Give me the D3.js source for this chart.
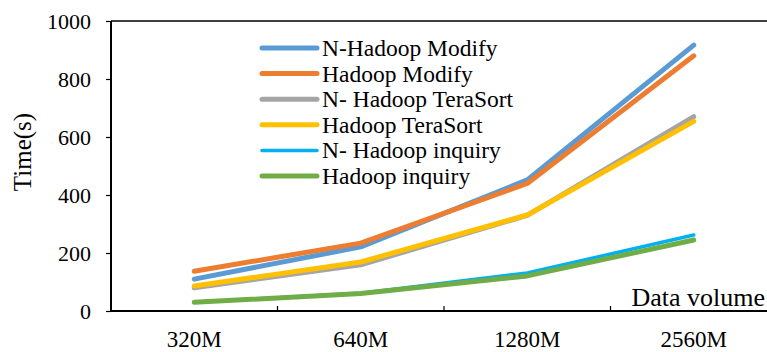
<!DOCTYPE html>
<html>
<head>
<meta charset="utf-8">
<script src="https://cdn.jsdelivr.net/npm/d3@7"></script>
<style>
  html, body { margin: 0; padding: 0; background: #fff; }
  svg { display: block; }
</style>
</head>
<body>
<svg id="chart" width="767" height="352"></svg>
<script>
// Data volumes on the x axis
const categories = ["320M", "640M", "1280M", "2560M"];

// Run time in seconds for each job type
const nHadoopModify    = [110, 221, 452, 917];
const hadoopModify     = [137, 234, 440, 880];
const nHadoopTeraSort  = [80, 159, 330, 670];
const hadoopTeraSort   = [86, 169, 331, 654];
const nHadoopInquiry   = [30, 61, 131, 262];
const hadoopInquiry    = [30, 60, 121, 245];

const seriesNames  = ["N-Hadoop Modify", "Hadoop Modify", "N- Hadoop TeraSort",
                      "Hadoop TeraSort", "N- Hadoop inquiry", "Hadoop inquiry"];
const seriesValues = [nHadoopModify, hadoopModify, nHadoopTeraSort,
                      hadoopTeraSort, nHadoopInquiry, hadoopInquiry];
const seriesColors = ["#5B9BD5", "#ED7D31", "#A5A5A5", "#FFC000", "#00B0F0", "#70AD47"];
const seriesWidths = [5, 5, 5, 5, 3.5, 5];

const yTicks = [0, 200, 400, 600, 800, 1000];

const FONT = "'Liberation Serif', 'Times New Roman', Times, 'DejaVu Serif', serif";

const svg = d3.select("#chart");

const plotLeft = 111, plotTop = 21, plotBottom = 311, step = 166.5;

const x = d3.scaleBand()
  .domain(categories)
  .range([plotLeft, plotLeft + step * categories.length])
  .paddingInner(0).paddingOuter(0);

const y = d3.scaleLinear().domain([0, 1000]).range([plotBottom, plotTop]);

// Plot frame: top border
svg.append("line")
  .attr("x1", plotLeft).attr("x2", 767)
  .attr("y1", plotTop).attr("y2", plotTop)
  .attr("stroke", "#000").attr("stroke-width", 1.5);

// Y axis
const yAxis = svg.append("g")
  .attr("transform", `translate(${plotLeft},0)`)
  .call(d3.axisLeft(y).tickValues(yTicks).tickSize(5).tickPadding(15).tickFormat(d3.format("d")));
yAxis.attr("font-family", FONT).attr("font-size", 22);
yAxis.select(".domain").attr("stroke", "#000").attr("stroke-width", 2)
  .attr("d", `M0,${plotBottom}V${plotTop}`);
yAxis.selectAll(".tick line").attr("stroke", "#000").attr("stroke-width", 1.2);
yAxis.selectAll(".tick text").attr("fill", "#000");

// X axis: tick marks on band boundaries pointing up, labels centered in bands
const xAxisG = svg.append("g").attr("font-family", FONT);
xAxisG.append("line")
  .attr("x1", plotLeft - 1).attr("x2", 767)
  .attr("y1", plotBottom).attr("y2", plotBottom)
  .attr("stroke", "#000").attr("stroke-width", 2);
xAxisG.selectAll("line.tick")
  .data(categories.slice(1))
  .join("line")
  .attr("class", "tick")
  .attr("x1", d => x(d)).attr("x2", d => x(d))
  .attr("y1", plotBottom).attr("y2", plotBottom - 5)
  .attr("stroke", "#000").attr("stroke-width", 1.2);
xAxisG.selectAll("text")
  .data(categories)
  .join("text")
  .attr("x", d => x(d) + x.bandwidth() / 2)
  .attr("y", 347)
  .attr("text-anchor", "middle")
  .attr("font-size", 23)
  .text(d => d);

// Axis titles
svg.append("text")
  .attr("transform", "translate(31,152) rotate(-90)")
  .attr("text-anchor", "middle")
  .attr("font-family", FONT)
  .attr("font-size", 25)
  .text("Time(s)");

svg.append("text")
  .attr("x", 765).attr("y", 306)
  .attr("text-anchor", "end")
  .attr("font-family", FONT)
  .attr("font-size", 26)
  .text("Data volume");

// Series lines
const line = d3.line()
  .x((d, i) => x(categories[i]) + x.bandwidth() / 2)
  .y(d => y(d));

svg.append("g")
  .selectAll("path")
  .data(seriesValues)
  .join("path")
  .attr("d", d => line(d))
  .attr("fill", "none")
  .attr("stroke", (d, i) => seriesColors[i])
  .attr("stroke-width", (d, i) => seriesWidths[i])
  .attr("stroke-linecap", "round")
  .attr("stroke-linejoin", "round");

// Legend
const legend = svg.append("g").attr("font-family", FONT);
const legendRows = legend.selectAll("g")
  .data(seriesNames)
  .join("g")
  .attr("transform", (d, i) => `translate(262,${48 + i * 25.6})`);
legendRows.append("line")
  .attr("x1", 0).attr("x2", 55)
  .attr("y1", 0).attr("y2", 0)
  .attr("stroke", (d, i) => seriesColors[i])
  .attr("stroke-width", (d, i) => seriesWidths[i])
  .attr("stroke-linecap", "round");
legendRows.append("text")
  .attr("x", 60).attr("y", 8)
  .attr("font-size", 23.5)
  .text(d => d);
</script>
</body>
</html>
